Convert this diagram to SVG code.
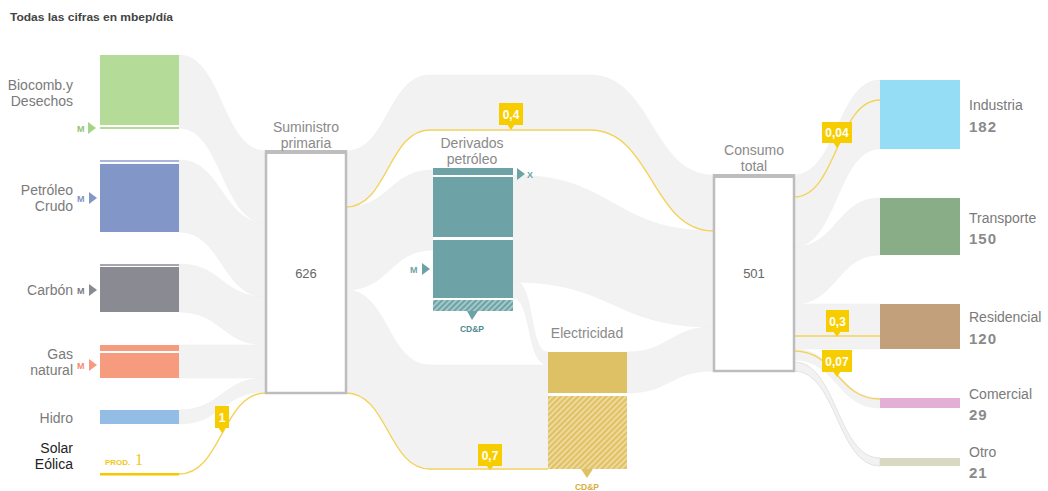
<svg xmlns="http://www.w3.org/2000/svg" width="1048" height="491" viewBox="0 0 1048 491">
<style>
text{font-family:"Liberation Sans",Arial,sans-serif}
.title{font-size:11px;font-weight:bold;fill:#444}
.lbl{font-size:14px;fill:#7a7a7a}
.nl{font-size:14px;fill:#8a8a8a;text-anchor:middle}
.val{font-size:15px;font-weight:bold;fill:#8a8a8a;letter-spacing:1px}
.num{font-size:13px;fill:#666;text-anchor:middle}
.band{fill:#f2f2f2;stroke:#ececec;stroke-width:0.5}
.yl{fill:none;stroke:#f3d35c;stroke-width:1.4}
.tag{fill:#f8cd00}
.tagt{font-size:12px;font-weight:bold;fill:#fff;text-anchor:middle}
.box{fill:#fff;stroke:#bdbdbd;stroke-width:2.5}
.m{font-size:9px;font-weight:bold}
.cdp{font-size:8.5px;font-weight:bold;text-anchor:middle}
</style>
<defs>
<pattern id="hTeal" width="4" height="4" patternUnits="userSpaceOnUse" patternTransform="rotate(45)"><rect width="4" height="4" fill="#a3c8ca"/><line x1="1" y1="0" x2="1" y2="4" stroke="#6da3a6" stroke-width="2"/></pattern>
<pattern id="hGold" width="4" height="4" patternUnits="userSpaceOnUse" patternTransform="rotate(45)"><rect width="4" height="4" fill="#efd99a"/><line x1="1" y1="0" x2="1" y2="4" stroke="#dfc165" stroke-width="2"/></pattern>
</defs>
<rect width="1048" height="491" fill="#fff"/>
<text class="title" x="10" y="21" textLength="163" lengthAdjust="spacingAndGlyphs">Todas las cifras en mbep/día</text>

<g id="connectors">
<path class="band" d="M179,55 C222,55 222,151 266,151 L266,223 C222,223 222,128 179,128 Z"/>
<path class="band" d="M179,160 C222,160 222,223 266,223 L266,297 C222,297 222,232 179,232 Z"/>
<path class="band" d="M179,264 C222,264 222,297 266,297 L266,345 C222,345 222,312 179,312 Z"/>
<path class="band" d="M179,345 L266,345 L266,378 L179,378 Z"/>
<path class="band" d="M179,410 C222,410 222,378 266,378 L266,392 C222,392 222,424 179,424 Z"/>
<path class="yl" d="M179,474 C222,474 222,393 266,393"/>
<path class="band" d="M346,151 C388,151 388,75 430,75 L590,75 C652,75 652,175 713,175 L713,231 C652,231 652,130 590,130 L430,130 C388,130 388,207 346,207 Z"/>
<path class="band" d="M346,207 C390,207 390,170 433,170 L433,250 C390,250 390,290 346,290 Z"/>
<path class="band" d="M513,175 C613,175 613,231 713,231 L713,327 C613,327 613,282 513,282 Z"/>
<path class="band" d="M513,280 C536,280 528,352 548,352 L548,365 C526,365 532,298 513,298 Z"/>
<path class="band" d="M346,290 C388,290 388,365 430,365 L548,365 L548,469 L430,469 C388,469 388,393 346,393 Z"/>
<path class="band" d="M627,352 C670,352 670,327 713,327 L713,371 C670,371 670,393 627,393 Z"/>
<path class="yl" d="M346,207 C388,207 388,130 430,130 L590,130 C652,130 652,231 713,231"/>
<path class="yl" d="M346,393 C388,393 388,469 430,469 L548,469"/>
<path class="band" d="M794,175 C837,175 837,80 880,80 L880,149 C837,149 837,247 794,247 Z"/>
<path class="band" d="M794,247 C837,247 837,198 880,198 L880,255 C837,255 837,304 794,304 Z"/>
<path class="band" d="M794,304 L880,304 L880,349 L794,349 Z"/>
<path class="band" d="M794,349 C837,349 837,398 880,398 L880,408 C837,408 837,360 794,360 Z"/>
<path class="band" d="M794,362 C837,362 837,458 880,458 L880,466 C837,466 837,371 794,371 Z" style="stroke:#e2e2e2;stroke-width:1"/>
<path class="yl" d="M794,197 C837,197 837,100 880,100"/>
<path class="yl" d="M794,336 L880,336"/>
<path class="yl" d="M794,351 C837,351 837,399 880,399"/>
</g>

<g id="n-biocomb">
<rect x="100" y="55" width="79" height="70" fill="#b5db99"/>
<rect x="100" y="127" width="79" height="2" fill="#b5db99"/>
<text class="lbl" x="73" y="90" text-anchor="end">Biocomb.y</text>
<text class="lbl" x="73" y="106" text-anchor="end">Desechos</text>
<text class="m" x="77" y="132" fill="#8fc46c">M</text>
<path d="M88,122 L96,128 L88,134 Z" fill="#a5d486"/>
</g>
<g id="n-petroleo">
<rect x="100" y="160" width="79" height="2" fill="#a9b6dc"/>
<rect x="100" y="164" width="79" height="68" fill="#8396c8"/>
<text class="lbl" x="73" y="195" text-anchor="end">Petróleo</text>
<text class="lbl" x="73" y="211" text-anchor="end">Crudo</text>
<text class="m" x="77" y="202" fill="#7f92c6">M</text>
<path d="M89,192 L97,198 L89,204 Z" fill="#8396c8"/>
</g>
<g id="n-carbon">
<rect x="100" y="264" width="79" height="2" fill="#a6a6ac"/>
<rect x="100" y="267" width="79" height="45" fill="#8a8a92"/>
<text class="lbl" x="73" y="295" text-anchor="end">Carbón</text>
<text class="m" x="77" y="294" fill="#7a7a80">M</text>
<path d="M89,284 L97,290 L89,296 Z" fill="#8a8a92"/>
</g>
<g id="n-gas">
<rect x="100" y="345" width="79" height="6" fill="#f79b7f"/>
<rect x="100" y="353" width="79" height="25" fill="#f79b7f"/>
<text class="lbl" x="73" y="359" text-anchor="end">Gas</text>
<text class="lbl" x="73" y="375" text-anchor="end">natural</text>
<text class="m" x="77" y="369" fill="#f48a70">M</text>
<path d="M89,359 L97,365 L89,371 Z" fill="#f79b7f"/>
</g>
<g id="n-hidro">
<rect x="100" y="410" width="79" height="14" fill="#93bde4"/>
<text class="lbl" x="73" y="423" text-anchor="end">Hidro</text>
</g>
<g id="n-solar">
<rect x="100" y="473" width="79" height="2.5" fill="#f5c800"/>
<text class="lbl" x="73" y="453" text-anchor="end" style="fill:#222">Solar</text>
<text class="lbl" x="73" y="469" text-anchor="end" style="fill:#222">Eólica</text>
<text x="105" y="465" style="font-size:8px;font-weight:bold;fill:#f0c820">PROD.</text>
<text x="135" y="465" style="font-size:16px;font-family:'Liberation Serif',serif;fill:#f0c820">1</text>
</g>

<g id="n-suministro">
<rect class="box" x="266" y="152" width="80" height="241"/>
<rect x="265" y="150" width="82" height="4" fill="#bdbdbd"/>
<text class="nl" x="306" y="132">Suministro</text>
<text class="nl" x="306" y="148">primaria</text>
<text class="num" x="306" y="278">626</text>
</g>

<g id="n-derivados">
<rect x="433" y="168" width="80" height="7" fill="#6da3a6"/>
<rect x="433" y="177" width="80" height="60" fill="#6da3a6"/>
<rect x="433" y="240" width="80" height="58" fill="#6da3a6"/>
<rect x="433" y="300" width="80" height="11" fill="url(#hTeal)"/>
<path d="M467,311 L478,311 L472,320 Z" fill="#6da3a6"/>
<text class="cdp" x="472" y="332" fill="#4d8c90">CD&amp;P</text>
<text class="nl" x="472" y="148">Derivados</text>
<text class="nl" x="472" y="164">petróleo</text>
<path d="M517,168 L525,174 L517,180 Z" fill="#6da3a6"/>
<text class="m" x="527" y="178" fill="#6da3a6">X</text>
<text class="m" x="410" y="273" fill="#6da3a6">M</text>
<path d="M422,263 L430,269 L422,275 Z" fill="#6da3a6"/>
</g>

<g id="n-electricidad">
<rect x="548" y="352" width="79" height="41" fill="#dfc165"/>
<rect x="548" y="396" width="79" height="73" fill="url(#hGold)"/>
<path d="M581,469 L593,469 L587,478 Z" fill="#dfc165"/>
<text class="cdp" x="587" y="490" fill="#d4b040">CD&amp;P</text>
<text class="nl" x="587" y="338">Electricidad</text>
</g>

<g id="n-consumo">
<rect class="box" x="714" y="176" width="80" height="195"/>
<rect x="713" y="174" width="82" height="4" fill="#bdbdbd"/>
<text class="nl" x="754" y="155">Consumo</text>
<text class="nl" x="754" y="171">total</text>
<text class="num" x="754" y="278">501</text>
</g>

<g id="n-industria">
<rect x="880" y="80" width="80" height="69" fill="#95dcf5"/>
<text class="lbl" x="969" y="110">Industria</text>
<text class="val" x="969" y="132">182</text>
</g>
<g id="n-transporte">
<rect x="880" y="198" width="80" height="57" fill="#88ad87"/>
<text class="lbl" x="969" y="223">Transporte</text>
<text class="val" x="969" y="244">150</text>
</g>
<g id="n-residencial">
<rect x="880" y="304" width="80" height="45" fill="#c1a07b"/>
<text class="lbl" x="969" y="322">Residencial</text>
<text class="val" x="969" y="344">120</text>
</g>
<g id="n-comercial">
<rect x="880" y="398" width="80" height="10" fill="#e4afd4"/>
<text class="lbl" x="969" y="399">Comercial</text>
<text class="val" x="969" y="420">29</text>
</g>
<g id="n-otro">
<rect x="880" y="458" width="80" height="8" fill="#d7d9c2"/>
<text class="lbl" x="969" y="457">Otro</text>
<text class="val" x="969" y="478">21</text>
</g>

<g id="tags">
<rect class="tag" x="215" y="406" width="14" height="22"/><path class="tag" d="M218,427 L226,427 L222,433 Z"/><text class="tagt" x="222" y="422">1</text>
<rect class="tag" x="499" y="103" width="24" height="22"/><path class="tag" d="M507,124 L515,124 L511,130 Z"/><text class="tagt" x="511" y="119">0,4</text>
<rect class="tag" x="478" y="444" width="24" height="22"/><path class="tag" d="M486,465 L494,465 L490,470 Z"/><text class="tagt" x="490" y="460">0,7</text>
<rect class="tag" x="822" y="122" width="30" height="21"/><path class="tag" d="M833,142 L841,142 L837,148 Z"/><text class="tagt" x="837" y="137">0,04</text>
<rect class="tag" x="826" y="310" width="23" height="22"/><path class="tag" d="M833,331 L841,331 L837,337 Z"/><text class="tagt" x="837.5" y="326">0,3</text>
<rect class="tag" x="822" y="350" width="30" height="22"/><path class="tag" d="M833,371 L841,371 L837,377 Z"/><text class="tagt" x="837" y="366">0,07</text>
</g>
</svg>
